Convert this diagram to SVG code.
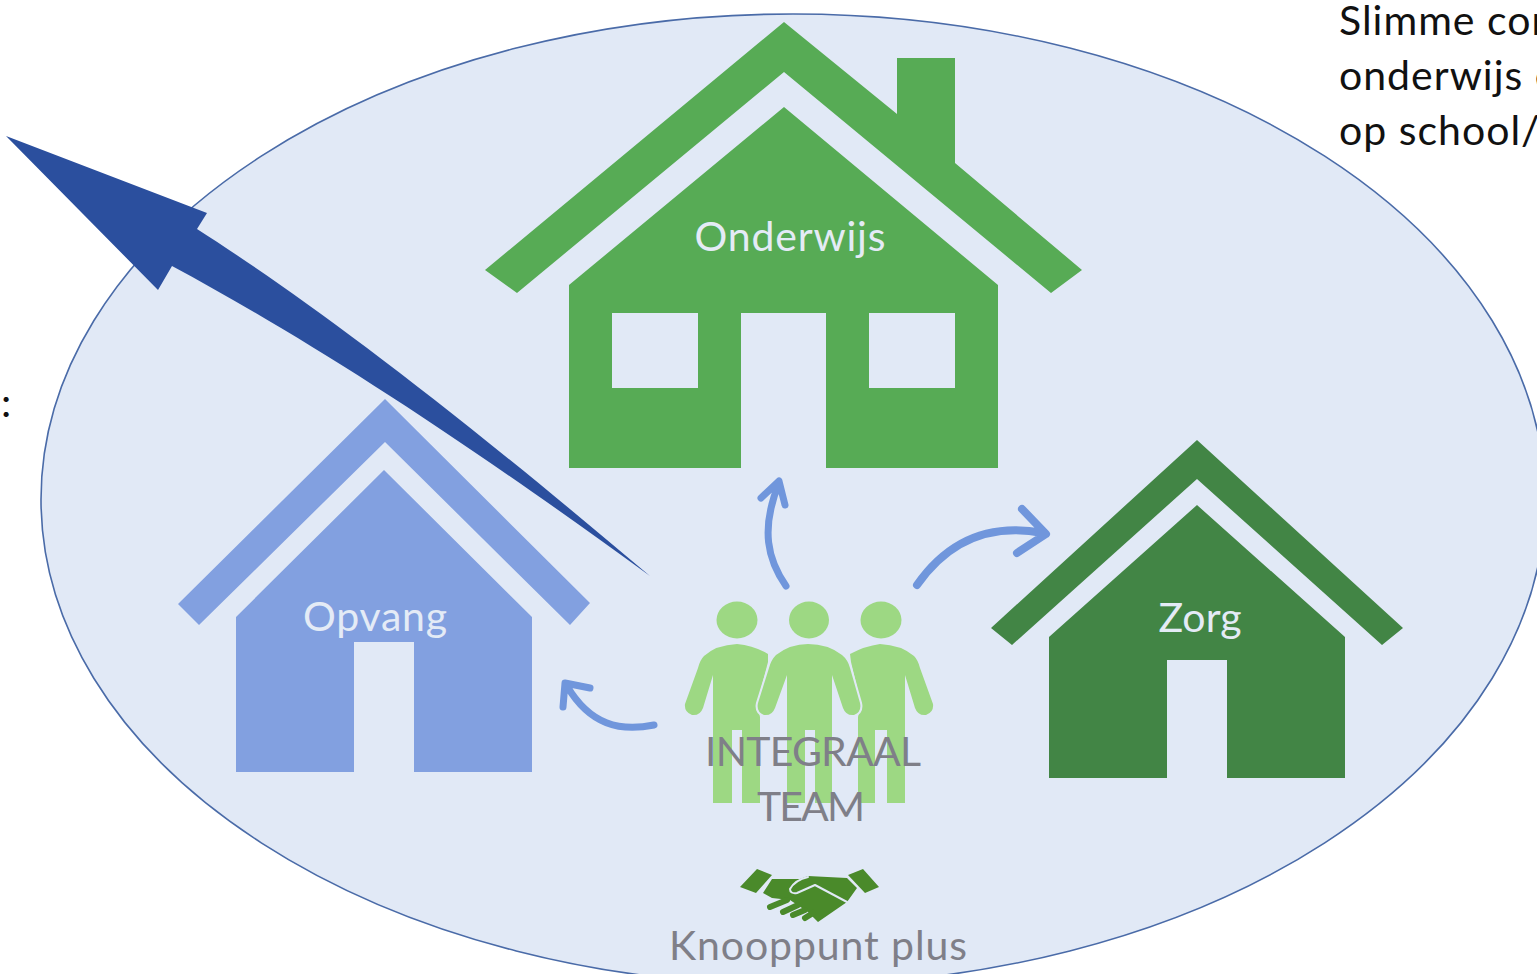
<svg xmlns="http://www.w3.org/2000/svg" width="1537" height="974" viewBox="0 0 1537 974">
<style>
text{font-family:"Lato","Carlito","Open Sans",sans-serif;font-size:41px}
.lab{fill:#e4ebf6;text-anchor:middle}
.dark{fill:#111;letter-spacing:1px}
.grey{fill:#7f7f88;text-anchor:middle}
.curve{fill:none;stroke:#7096dc;stroke-width:7;stroke-linecap:round;stroke-linejoin:round}
.p{fill:#9dd883}
.hs{fill:#4a8a2a}
.gap{fill:none;stroke:#e1e9f6;stroke-linecap:round;stroke-linejoin:round}
</style>
<rect width="1537" height="974" fill="#fff"/>
<ellipse id="scope" cx="793" cy="499.500" rx="752" ry="485.500" fill="#e1e9f6" stroke="#4a6ba8" stroke-width="1.600"/>
<g id="onderwijs" fill="#57ab55">
<path d="M784 22L897 114V58H955V163L1082 270L1051 293L784 72L517 293L485 270Z"/>
<path fill-rule="evenodd" d="M784 107L998 285V468H826V313H741V468H569V285ZM612 313V388H698V313ZM869 313V388H955V313Z"/>
<text class="lab" x="790" y="251" textLength="191">Onderwijs</text>
</g>
<g id="opvang" fill="#82a0e0">
<path d="M385 399L590 603L570 625L385 442L199 625L178 604Z"/>
<path d="M384 470L532 617V772H414V642H354V772H236V617Z"/>
<text class="lab" x="375" y="631" textLength="144">Opvang</text>
</g>
<g id="zorg" fill="#428545">
<path d="M1197 440L1403 628L1382 645L1197 479L1012 645L991 628Z"/>
<path d="M1197 505L1345 637V778H1227V660H1167V778H1049V637Z"/>
<text class="lab" x="1200" y="632" textLength="83">Zorg</text>
</g>
<g id="integraal-team">
<ellipse class="p" cx="737" cy="620" rx="20.500" ry="18.500"/><ellipse class="p" cx="809" cy="620" rx="20" ry="18.500"/><ellipse class="p" cx="881" cy="620" rx="20.500" ry="18.500"/>
<path class="p" d="M737 644Q716 645 704 656Q700 660 698 668L685 704Q684 712 692 715Q700 716 703 708L713 675V803H732V730H742V803H760V717L757 704L768 662L768 654Q755 646 737 644Z"/>
<path class="p" d="M880 644Q901 645 914 656Q918 660 920 668L933 704Q934 712 926 715Q918 716 915 708L905 675V803H887V730H875V803H858V717L861 704L851 662L850 654Q865 646 880 644Z"/>
<path class="p" d="M808 644Q828 644 842 655Q848 660 850 668L860 703Q862 712 854 715Q846 716 843 708L832 675V803H815V730H805V803H787V675L775 708Q772 716 764 715Q756 712 758 703L769 668Q771 660 776 655Q790 644 808 644Z" stroke="#e1e9f6" stroke-width="4" paint-order="stroke"/>
<text class="grey" x="813" y="766" textLength="216">INTEGRAAL</text>
<text class="grey" x="811" y="821" textLength="108">TEAM</text>
</g>
<g id="knooppunt-plus">
<path class="hs" d="M757 869L772 875L756 893L740 887ZM863 869L879 887L865 893L848 875Z"/>
<path class="hs" d="M763 893L772 879L800 879L808 876L847 878L857 888L847 902L818 922L808 912L790 900L772 898Z"/>
<path class="gap" stroke-width="2" d="M808 877Q795 880 790 889Q790 894 797 893L815 885L847 902"/>
<path fill="none" stroke="#4a8a2a" stroke-width="6" stroke-linecap="round" d="M770 907L787 900M783 912L798 905M793 915L805 910M805 918L813 913"/>
<text class="grey" x="818" y="960" textLength="298">Knooppunt plus</text>
</g>
<g id="connectors">
<path class="curve" d="M786 586C768 560 760 530 779 483M761 498L779 481L785 505"/>
<path class="curve" style="stroke-width:8" d="M917 585C945 545 985 522 1043 533M1022 509L1046 534L1017 553"/>
<path class="curve" d="M654 725C620 732 590 725 567 686M563 707L565 683L590 688"/>
<path fill="#2b4f9e" d="M6 136L207 213L197 229C300 295 430 390 650 576C450 430 300 335 172 266L158 290Z"/>
</g>
<g id="notes">
<text class="dark" x="1339" y="35">Slimme cor</text>
<text class="dark" x="1339" y="90">onderwijs e</text>
<text class="dark" x="1339" y="145">op school/</text>
<text class="dark" x="1" y="417">:</text>
</g>
</svg>
